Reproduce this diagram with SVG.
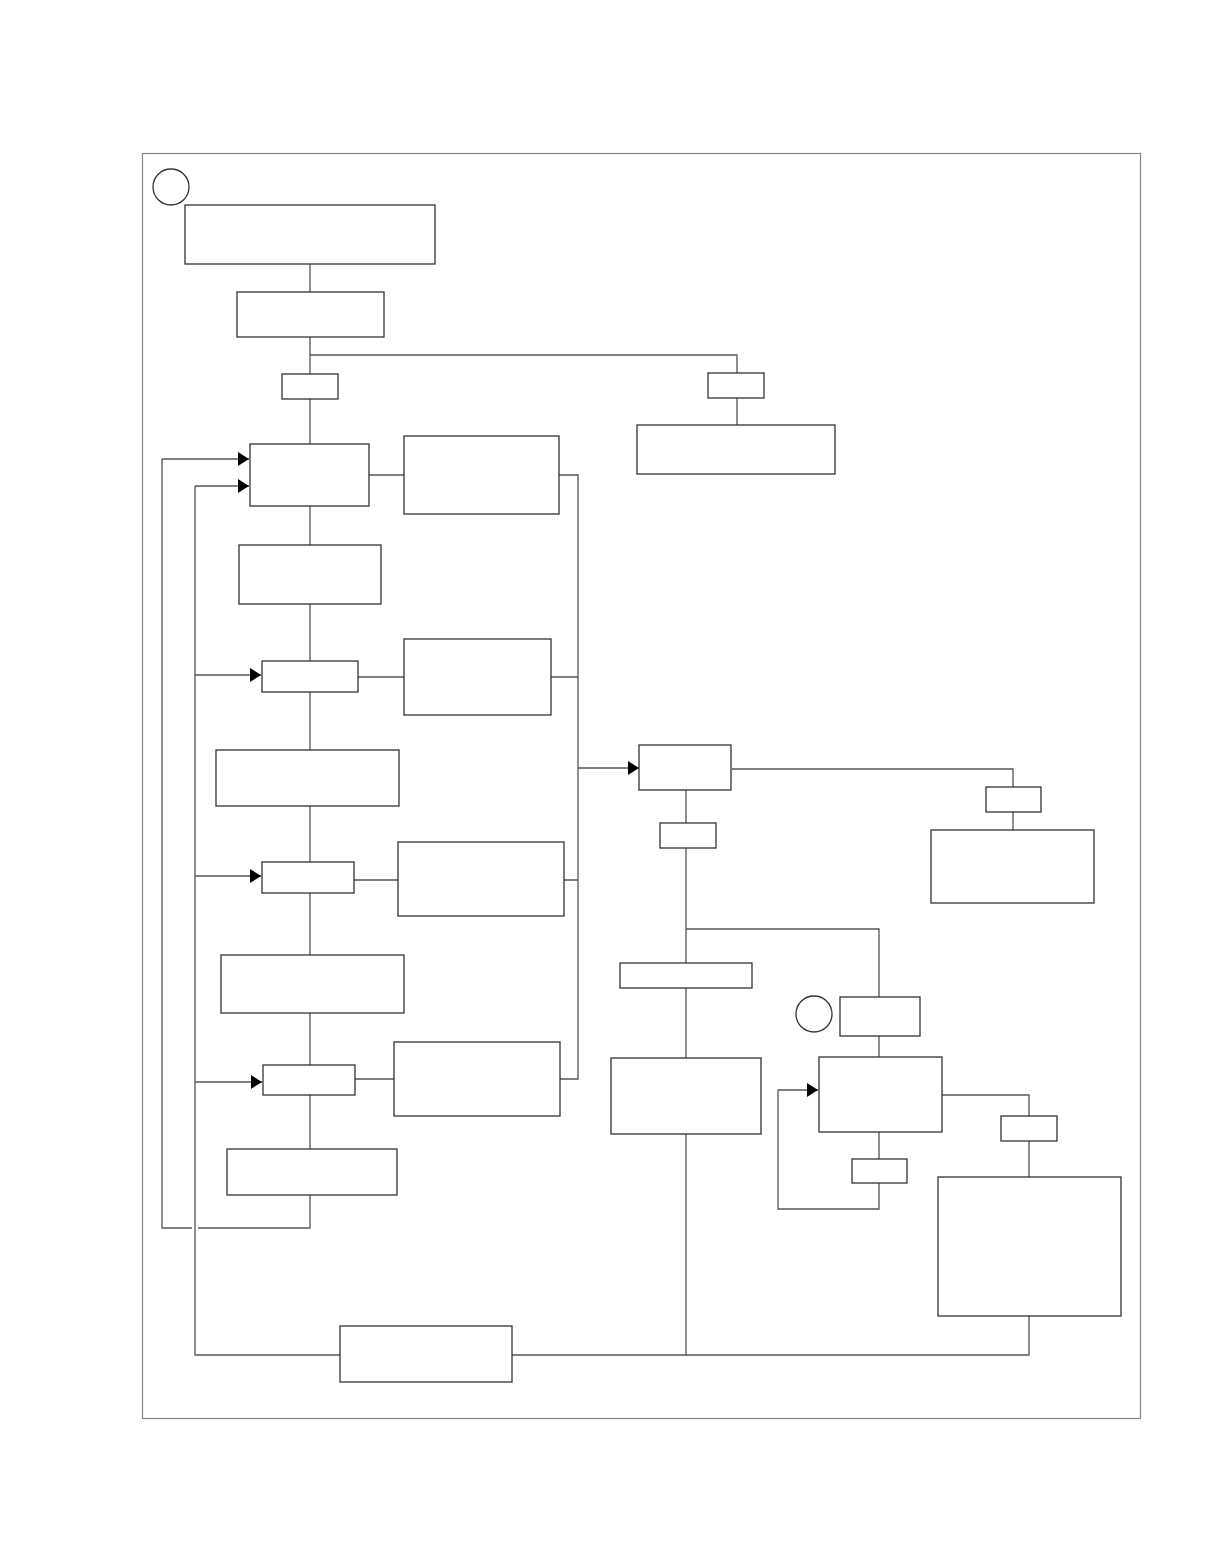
<svg xmlns="http://www.w3.org/2000/svg" width="1210" height="1568" viewBox="0 0 1210 1568">
<style>
.frame{fill:none;stroke:#888;stroke-width:1.2}
.n{fill:#fff;stroke:#333;stroke-width:1.3}
.c{fill:none;stroke:#555;stroke-width:1.3}
</style>
<defs>
<marker id="ah" markerUnits="userSpaceOnUse" markerWidth="12" markerHeight="14" refX="11" refY="7" orient="auto">
<path d="M0,0 L11,7 L0,14 z" fill="#000"/>
</marker>
</defs>
<rect width="1210" height="1568" fill="#fff"/>
<rect class="frame" x="142.5" y="153.5" width="998" height="1265"/>
<g id="connectors">
<path class="c" d="M310,264 V292 M310,337 V374 M310,355 H737 V373 M737,398 V425"/>
<path class="c" d="M310,399 V444 M310,506 V545 M310,604 V661 M310,692 V750 M310,806 V862 M310,893 V955 M310,1013 V1065 M310,1095 V1149 M310,1195 V1228 H198 M192,1228 H162 V459"/>
<path class="c" d="M162,459 H249" marker-end="url(#ah)"/>
<path class="c" d="M195,486 H249" marker-end="url(#ah)"/>
<path class="c" d="M195,675 H261" marker-end="url(#ah)"/>
<path class="c" d="M195,876 H261" marker-end="url(#ah)"/>
<path class="c" d="M195,1082 H262" marker-end="url(#ah)"/>
<path class="c" d="M195,486 V1355 H340 M512,1355 H1029 V1316"/>
<path class="c" d="M369,475 H404 M559,475 H578 V1079 H560 M358,677 H404 M551,677 H578 M354,880 H398 M564,880 H578 M355,1079 H394"/>
<path class="c" d="M578,768 H639" marker-end="url(#ah)"/>
<path class="c" d="M732,769 H1013 V787 M1013,812 V830"/>
<path class="c" d="M686,790 V823 M686,848 V963 M686,988 V1058 M686,1134 V1355 M686,929 H879 V997 M879,1036 V1057"/>
<path class="c" d="M942,1095 H1029 V1116 M1029,1141 V1177"/>
<path class="c" d="M879,1132 V1159 M879,1183 V1209 H778 V1090 H818" marker-end="url(#ah)"/>
</g>
<g id="circle1"><circle class="n" cx="171" cy="187" r="18"/></g>
<g id="circle2"><circle class="n" cx="814" cy="1014" r="18"/></g>
<g id="nA"><rect class="n" x="185" y="205" width="250" height="59"/></g>
<g id="nB"><rect class="n" x="237" y="292" width="147" height="45"/></g>
<g id="nC"><rect class="n" x="282" y="374" width="56" height="25"/></g>
<g id="nC2"><rect class="n" x="708" y="373" width="56" height="25"/></g>
<g id="nC3"><rect class="n" x="637" y="425" width="198" height="49"/></g>
<g id="nD"><rect class="n" x="250" y="444" width="119" height="62"/></g>
<g id="nE"><rect class="n" x="404" y="436" width="155" height="78"/></g>
<g id="nF"><rect class="n" x="239" y="545" width="142" height="59"/></g>
<g id="nG"><rect class="n" x="262" y="661" width="96" height="31"/></g>
<g id="nH"><rect class="n" x="404" y="639" width="147" height="76"/></g>
<g id="nI"><rect class="n" x="216" y="750" width="183" height="56"/></g>
<g id="nJ"><rect class="n" x="262" y="862" width="92" height="31"/></g>
<g id="nK"><rect class="n" x="398" y="842" width="166" height="74"/></g>
<g id="nL"><rect class="n" x="221" y="955" width="183" height="58"/></g>
<g id="nM"><rect class="n" x="263" y="1065" width="92" height="30"/></g>
<g id="nN"><rect class="n" x="394" y="1042" width="166" height="74"/></g>
<g id="nO"><rect class="n" x="227" y="1149" width="170" height="46"/></g>
<g id="nP"><rect class="n" x="340" y="1326" width="172" height="56"/></g>
<g id="nQ"><rect class="n" x="639" y="745" width="92" height="45"/></g>
<g id="nS"><rect class="n" x="986" y="787" width="55" height="25"/></g>
<g id="nR"><rect class="n" x="931" y="830" width="163" height="73"/></g>
<g id="nT"><rect class="n" x="660" y="823" width="56" height="25"/></g>
<g id="nU"><rect class="n" x="620" y="963" width="132" height="25"/></g>
<g id="nV"><rect class="n" x="611" y="1058" width="150" height="76"/></g>
<g id="nW"><rect class="n" x="840" y="997" width="80" height="39"/></g>
<g id="nX"><rect class="n" x="819" y="1057" width="123" height="75"/></g>
<g id="nY"><rect class="n" x="1001" y="1116" width="56" height="25"/></g>
<g id="nZ"><rect class="n" x="938" y="1177" width="183" height="139"/></g>
<g id="nAA"><rect class="n" x="852" y="1159" width="55" height="24"/></g>
</svg>
